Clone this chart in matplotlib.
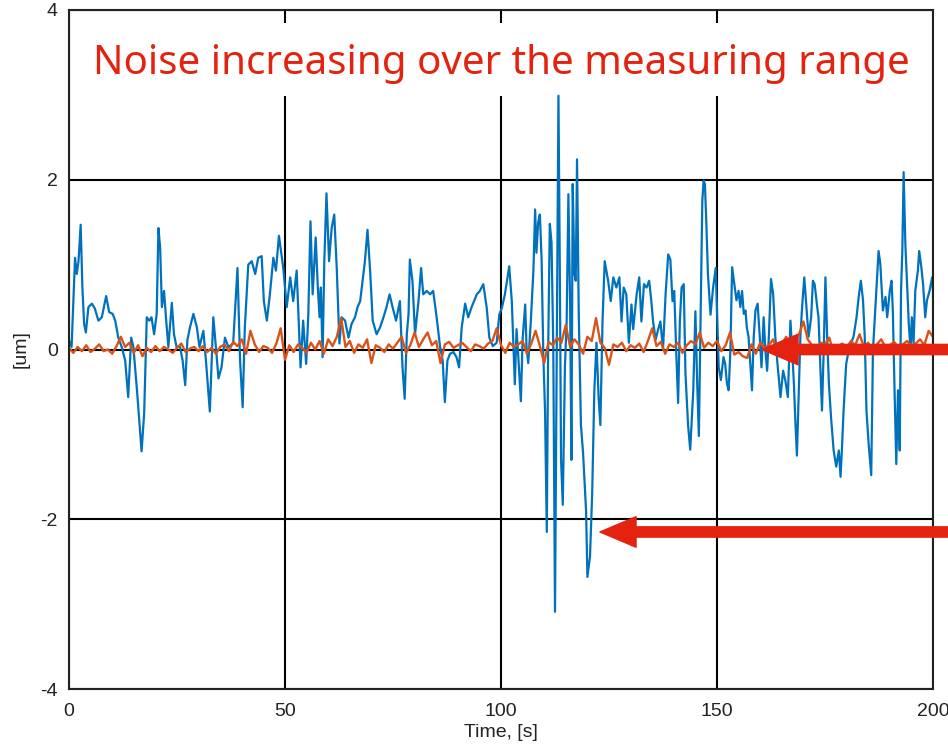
import matplotlib
matplotlib.use('Agg')
import matplotlib.pyplot as plt
from matplotlib.patches import Rectangle

# blue trace: sensor signal (turning points)
blue_t = [0.0, 0.6, 1.4, 1.8, 2.2, 2.7, 3.1, 3.5, 3.9, 4.5, 5.3, 6.0, 6.8, 7.6, 8.6, 9.3, 10.1, 10.7, 11.4, 12.2,
          13.0, 13.7, 14.4, 14.9, 15.8, 16.8, 17.4, 18.0, 18.6, 19.1, 19.7, 20.3, 20.7, 21.1, 21.5, 22.0, 22.5, 23.0, 23.8, 24.3,
          24.9, 25.7, 26.3, 26.9, 27.4, 28.0, 28.8, 29.6, 30.2, 31.1, 31.7, 32.6, 33.4, 34.0, 34.6, 35.3, 36.1, 36.9, 38.0, 39.0,
          39.6, 40.2, 40.7, 41.5, 42.3, 43.1, 43.8, 44.6, 45.1, 45.8, 46.5, 47.3, 47.9, 48.6, 49.6, 50.4, 51.2, 51.9, 52.7, 53.3,
          53.6, 54.2, 54.9, 55.4, 55.9, 56.4, 57.1, 57.6, 58.0, 58.3, 58.7, 59.1, 59.6, 60.2, 60.8, 61.4, 62.0, 62.6, 63.1, 63.9,
          64.7, 65.4, 66.2, 66.8, 67.4, 68.5, 69.1, 69.7, 70.3, 71.2, 72.0, 72.8, 73.5, 74.2, 74.9, 75.7, 76.6, 77.2, 77.7, 78.2,
          78.6, 78.9, 79.5, 80.1, 80.9, 81.5, 82.0, 82.8, 83.6, 84.3, 85.1, 85.9, 86.5, 87.0, 87.6, 88.2, 89.0, 89.7, 90.3, 90.9,
          91.7, 92.4, 93.2, 94.4, 95.1, 95.9, 96.7, 97.3, 98.1, 99.0, 99.6, 100.2, 100.9, 101.9, 102.5, 102.9, 103.2, 103.6, 104.0, 104.6,
          105.0, 105.6, 105.9, 106.3, 106.9, 107.5, 107.9, 108.2, 108.6, 109.0, 109.4, 109.8, 110.2, 110.6, 110.9, 111.3, 111.7, 112.1, 112.5, 112.9,
          113.3, 113.6, 113.9, 114.3, 114.8, 115.2, 115.6, 116.0, 116.3, 116.6, 117.0, 117.3, 117.6, 118.0, 118.5, 119.0, 119.7, 120.0, 120.6, 121.1,
          121.6, 122.1, 122.6, 123.0, 123.5, 124.0, 124.8, 125.4, 126.0, 126.7, 127.4, 127.9, 128.4, 129.0, 129.6, 130.2, 130.6, 131.4, 132.0, 132.5,
          133.1, 133.7, 134.3, 134.8, 135.2, 135.8, 136.4, 136.9, 137.5, 138.1, 138.7, 139.2, 139.7, 140.1, 140.6, 141.0, 141.4, 141.8, 142.3, 142.7,
          143.3, 143.8, 144.5, 145.0, 145.4, 145.8, 146.2, 146.6, 146.9, 147.2, 147.5, 147.9, 148.5, 149.1, 149.7, 150.4, 150.9, 151.5, 151.9, 152.3,
          152.7, 153.1, 153.5, 154.0, 154.5, 155.0, 155.4, 155.8, 156.2, 156.6, 156.9, 157.3, 157.7, 158.1, 158.5, 158.9, 159.4, 159.9, 160.3, 160.8,
          161.2, 161.6, 162.0, 162.5, 163.0, 163.5, 164.0, 164.7, 165.3, 165.8, 166.4, 167.0, 167.4, 167.8, 168.1, 168.5, 169.0, 169.3, 169.7, 170.2,
          170.7, 171.2, 171.8, 172.2, 172.6, 173.2, 173.5, 173.9, 174.3, 174.7, 175.1, 175.5, 175.9, 176.4, 177.0, 177.6, 178.2, 178.6, 178.9, 179.3,
          179.9, 180.5, 181.0, 181.6, 182.3, 182.8, 183.3, 183.8, 184.2, 184.6, 185.1, 185.7, 186.1, 186.7, 187.4, 187.8, 188.4, 189.0, 189.4, 190.0,
          190.4, 190.7, 191.1, 191.5, 191.9, 192.3, 192.6, 192.9, 193.2, 193.6, 194.0, 194.4, 194.8, 195.1, 195.5, 195.9, 196.5, 196.8, 197.3, 197.7,
          198.2, 198.6, 199.2, 199.8, 200.0]
blue_v = [0.11, 0.03, 1.08, 0.89, 1.04, 1.47, 0.73, 0.30, 0.20, 0.50, 0.54, 0.48, 0.34, 0.38, 0.63, 0.44, 0.42, 0.34, 0.14, 0.03,
          -0.13, -0.56, 0.14, 0.03, -0.52, -1.20, -0.75, 0.38, 0.34, 0.38, 0.18, 0.42, 1.43, 1.20, 0.50, 0.69, 0.34, 0.03, 0.55, 0.18,
          0.03, 0.03, -0.13, -0.42, 0.11, 0.26, 0.42, 0.26, 0.03, 0.22, -0.13, -0.73, 0.38, 0.03, -0.34, -0.21, 0.14, 0.03, 0.07, 0.96,
          -0.13, -0.68, 0.26, 1.00, 1.04, 0.89, 1.08, 1.10, 0.57, 0.34, 0.65, 1.08, 0.93, 1.34, 0.96, 0.50, 0.85, 0.57, 0.93, 0.18,
          -0.21, 0.34, -0.17, 0.42, 1.51, 0.65, 1.32, 0.73, 0.38, 0.73, -0.09, 1.04, 1.84, 1.04, 1.43, 1.59, 0.93, 0.07, 0.38, 0.34,
          0.14, 0.30, 0.38, 0.50, 0.57, 1.04, 1.41, 0.93, 0.34, 0.18, 0.26, 0.38, 0.50, 0.65, 0.50, 0.34, 0.57, -0.21, -0.58, 0.18,
          0.42, 1.06, 0.81, 0.18, 0.57, 0.96, 0.65, 0.69, 0.65, 0.69, 0.38, 0.03, -0.13, -0.62, -0.13, -0.05, -0.03, -0.09, -0.21, 0.26,
          0.54, 0.38, 0.50, 0.65, 0.69, 0.77, 0.49, 0.14, 0.04, 0.08, 0.41, 0.49, 0.65, 0.98, 0.57, 0.00, -0.41, 0.24, -0.08, -0.61,
          0.12, 0.53, 0.04, -0.16, 0.33, 0.93, 1.65, 1.14, 1.50, 1.59, 1.06, -0.08, -0.73, -2.15, -0.08, 1.48, 1.26, 0.04, -3.09, -0.08,
          2.99, 1.06, -1.30, -1.83, -0.20, 0.33, 1.83, 0.53, -1.30, 1.95, 0.89, 0.81, 2.24, 0.41, -0.89, -1.22, -1.91, -2.68, -2.44, -1.71,
          -0.49, 0.08, -0.57, -0.89, 0.33, 1.04, 0.81, 0.57, 0.85, 0.73, 0.85, 0.33, 0.73, 0.65, 0.08, 0.53, 0.24, 0.65, 0.85, 0.33,
          0.77, 0.73, 0.81, 0.57, 0.33, 0.12, 0.24, 0.33, 0.00, 0.65, 1.12, 1.06, 0.57, 0.69, -0.08, -0.63, 0.33, 0.73, 0.77, -0.28,
          -0.89, -1.18, -0.49, 0.45, -0.37, -1.02, 0.33, 1.75, 1.99, 1.95, 1.54, 0.89, 0.41, 0.73, 0.96, -0.21, -0.36, -0.09, -0.17, -0.40,
          -0.48, -0.01, 0.97, 0.77, 0.58, 0.69, 0.50, 0.69, 0.42, 0.46, 0.26, 0.15, -0.17, -0.48, 0.15, 0.46, 0.54, 0.15, -0.21, 0.38,
          -0.01, -0.25, 0.15, 0.83, 0.65, 0.15, -0.17, -0.56, -0.25, -0.36, -0.56, 0.34, -0.01, -0.40, -0.80, -1.25, -0.40, 0.15, 0.50, 0.85,
          0.50, 0.15, 0.38, 0.81, 0.77, 0.50, 0.38, -0.17, -0.72, -0.01, 0.85, 0.15, -0.40, -0.80, -1.19, -1.38, -1.19, -1.50, -1.19, -0.72,
          -0.17, -0.01, 0.07, 0.15, 0.38, 0.62, 0.81, 0.58, 0.15, -0.72, -1.11, -1.48, -0.01, 0.54, 1.16, 1.01, 0.46, 0.62, 0.38, 0.69,
          0.81, 0.46, -0.48, -1.35, -0.48, -1.19, 0.69, 1.16, 2.09, 1.24, 0.77, 0.30, -0.01, 0.38, 0.07, 0.69, 0.93, 1.16, 0.97, 0.77,
          0.38, 0.58, 0.69, 0.85, 0.70]

# orange trace: reference signal, one sample per second
orange_t = list(range(0, 201))
orange_v = [0.02, -0.04, 0.03, -0.02, 0.05, -0.03, 0.01, 0.06, -0.02, 0.00,
            -0.05, 0.04, 0.15, 0.03, 0.08, -0.04, 0.05, -0.08, 0.02, -0.03,
            0.04, -0.02, 0.03, 0.00, -0.04, 0.02, 0.07, -0.03, 0.01, 0.03,
            -0.02, 0.04, -0.03, 0.02, -0.05, 0.03, 0.06, -0.02, 0.09, 0.04,
            0.12, -0.05, 0.22, 0.06, -0.03, 0.04, 0.02, -0.04, 0.07, 0.25,
            -0.12, 0.05, -0.03, 0.06, 0.02, -0.04, 0.08, 0.00, 0.10, -0.05,
            0.12, 0.04, 0.15, 0.37, 0.03, 0.10, -0.04, 0.06, 0.02, 0.12,
            -0.16, 0.05, 0.02, -0.03, 0.06, 0.01, 0.08, 0.15, -0.04, 0.05,
            0.20, 0.03, 0.12, 0.20, 0.05, 0.10, -0.16, 0.06, 0.09, 0.02,
            0.05, 0.08, 0.03, -0.02, 0.06, 0.04, 0.01, 0.07, 0.10, 0.25,
            0.05, -0.04, 0.08, 0.03, 0.06, 0.10, -0.05, 0.07, 0.22, 0.04,
            -0.16, 0.09, 0.05, 0.14, 0.08, 0.29, 0.03, 0.12, 0.06, -0.05,
            0.15, 0.10, 0.37, 0.08, 0.02, -0.18, 0.06, 0.03, 0.08, -0.02,
            0.05, 0.02, 0.07, -0.03, 0.10, 0.25, 0.04, 0.09, -0.05, 0.06,
            0.03, 0.08, -0.04, 0.05, 0.10, 0.06, 0.20, 0.02, 0.08, 0.04,
            0.10, -0.02, 0.05, 0.20, -0.06, -0.03, -0.08, -0.10, 0.06, -0.05,
            0.08, 0.02, 0.05, 0.12, -0.04, 0.06, 0.15, 0.04, 0.10, 0.18,
            0.33, 0.12, 0.05, -0.03, 0.08, 0.06, 0.14, -0.05, 0.04, 0.07,
            0.02, 0.10, 0.05, 0.18, 0.03, 0.08, -0.04, 0.06, 0.12, 0.03,
            0.05, 0.09, 0.02, 0.06, 0.10, 0.04, 0.07, 0.12, 0.05, 0.22,
            0.15]

x_ticks = [0, 50, 100, 150, 200]
y_ticks = [-4, -2, 0, 2, 4]
title = 'Noise increasing over the measuring range'
red = '#E3230F'

plt.rcParams['font.family'] = ['Liberation Sans Narrow', 'Liberation Sans', 'DejaVu Sans']
plt.rcParams['axes.unicode_minus'] = False

fig = plt.figure(figsize=(9.48, 7.47), dpi=100)
ax = fig.add_axes([69 / 948, 58 / 747, 864 / 948, 679 / 747])

ax.plot(blue_t, blue_v, color='#0072BD', lw=1.6, zorder=2)
ax.plot(orange_t, orange_v, color='#D95319', lw=1.7, zorder=2.1)

ax.set_xlim(0, 200)
ax.set_ylim(-4, 4)
ax.set_xticks(x_ticks)
ax.set_yticks(y_ticks)
ax.tick_params(length=0, labelsize=14, colors='#222222')
ax.tick_params(axis='x', pad=10)
ax.tick_params(axis='y', pad=8)
ax.grid(True, color='black', lw=1.5)
ax.set_axisbelow(True)
for s in ax.spines.values():
    s.set_linewidth(1.5)
    s.set_color('#222222')

ax.set_xlabel('Time, [s]', fontsize=14, labelpad=3, color='#222222')
ax.set_ylabel('[um]', fontsize=14, labelpad=8, color='#222222')

# white panel behind the heading
ax.add_patch(Rectangle((2, 2.99), 196.8, 0.86, facecolor='white', edgecolor='none', zorder=1.5))
ax.text(100, 3.36, title, color=red, fontsize=29, family=['Noto Sans', 'DejaVu Sans'],
        ha='center', va='center', zorder=3)

# arrows coming in from the right edge
arrow = dict(arrowstyle='simple,head_length=1.3,head_width=1.1,tail_width=0.37',
             mutation_scale=20, color=red, shrinkA=0, shrinkB=0)
ax.annotate('', xy=(160.4, 0.0), xytext=(1.0, 0.0), textcoords=('figure fraction', 'data'),
            arrowprops=arrow, annotation_clip=False, zorder=4)
ax.annotate('', xy=(122.9, -2.15), xytext=(1.0, -2.15), textcoords=('figure fraction', 'data'),
            arrowprops=arrow, annotation_clip=False, zorder=4)

fig.savefig('out.png', dpi=100)
